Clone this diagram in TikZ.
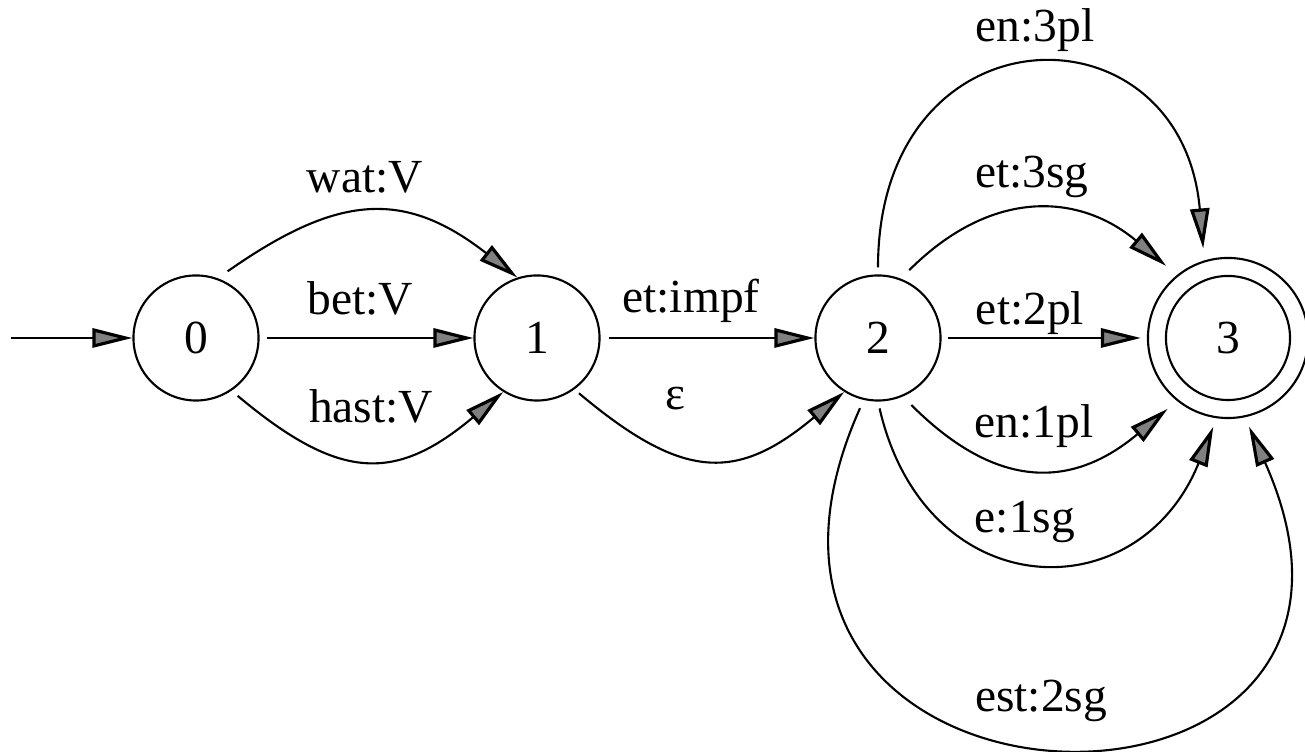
\documentclass[tikz,border=0pt]{standalone}
\usepackage{fontspec}
\setmainfont{Liberation Serif}
\newfontfamily\fsaserif{Liberation Serif}
\usetikzlibrary{arrows.meta}
\tikzset{
  fsafont/.style={font=\fsaserif\fontsize{13.5}{16}\selectfont},
  state/.style={circle, draw, line width=0.6pt, inner sep=0pt, minimum size=1.25cm, fsafont},
  accstate/.style={state, minimum size=1.6cm},
  edge/.style={line width=0.6pt, -{Triangle[length=0.4cm,width=0.19cm,fill=black!50,line width=0.9pt]}},
  lbl/.style={anchor=base, inner sep=0pt, fsafont}
}
\begin{document}
\begin{tikzpicture}[x=0.01cm,y=0.01cm]
\useasboundingbox (0,0) rectangle (1305,752);
% states
\node[state] (n0) at (196,414) {0};
\node[state] (n1) at (537,414) {1};
\node[state] (n2) at (878,414) {2};
\node[accstate] (n3) at (1228,414) {3};
\draw[line width=0.6pt] (n3.center) circle[radius=0.62cm];
\coordinate (init) at (11,414);
% transitions
\draw[edge] (init) -- (n0);
\draw[edge, shorten <=0.12cm] (n0.70) .. controls +(35:145) and +(142:145) .. (n1.108);
\draw[edge, shorten <=0.07cm] (n0) -- (n1);
\draw[edge, shorten <=0.08cm] (n0.-56) .. controls +(-40:141) and +(220:141) .. (n1.-122);
\draw[edge, shorten <=0.08cm] (n1) -- (n2);
\draw[edge, shorten <=0.06cm] (n1.-54) .. controls +(-40:141) and +(220:141) .. (n2.-122);
\draw[edge, shorten <=0.07cm, shorten >=0.12cm] (n2.90) .. controls +(90:270) and +(95:263) .. (n3.107);
\draw[edge, shorten <=0.12cm, shorten >=0.14cm] (n2.69) .. controls +(45:128) and +(140:128) .. (n3.129);
\draw[edge, shorten <=0.06cm, shorten >=0.06cm] (n2) -- (n3);
\draw[edge, shorten <=0.12cm, shorten >=0.12cm] (n2.-67) .. controls +(-45:135) and +(-140:135) .. (n3.-129);
\draw[edge, shorten <=0.07cm, shorten >=0.09cm] (n2.-90) .. controls +(-77:210) and +(248:210) .. (n3.-98);
\draw[edge, shorten <=0.09cm, shorten >=0.10cm] (n2.-103) .. controls +(-200,-448) and +(200,-448) .. (n3.-78);
% labels
\node[lbl] (l-wat) at (365,559) {wat:V};
\node[lbl] (l-bet) at (360,437) {bet:V};
\node[lbl] (l-hast) at (371,329) {hast:V};
\node[lbl] (l-impf) at (691,439) {et:impf};
\node[lbl] (l-eps) at (675,342) {ε};
\node[lbl] (l-3pl) at (1035,710) {en:3pl};
\node[lbl] (l-3sg) at (1032,564) {et:3sg};
\node[lbl] (l-2pl) at (1030,427) {et:2pl};
\node[lbl] (l-1pl) at (1034,314) {en:1pl};
\node[lbl] (l-1sg) at (1025,219) {e:1sg};
\node[lbl] (l-2sg) at (1041,40) {est:2sg};
\end{tikzpicture}
\end{document}
